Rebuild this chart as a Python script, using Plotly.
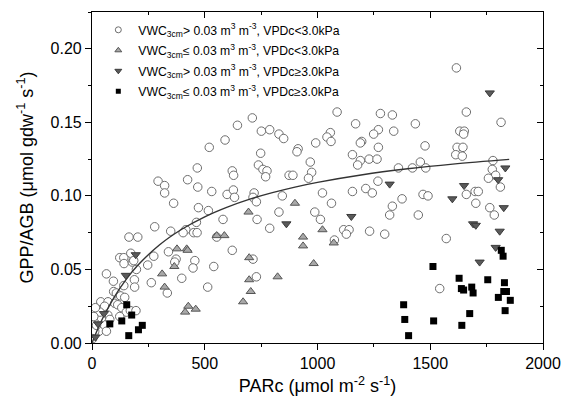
import plotly.graph_objects as go

# open circles: VWC > 0.03, VPDc < 3.0 kPa
circ_x = [293, 322, 322, 424, 467, 469, 531, 622, 628, 599, 627, 632, 738, 719, 714, 729, 732,
          362, 472, 516, 278, 349, 416, 404, 463, 451, 466, 581, 553, 622, 714, 339, 373, 367,
          456, 448, 398, 513, 540, 203, 274, 247, 263, 334, 164, 123, 141, 142, 172, 179, 185,
          64, 95, 141, 96, 108, 197, 188, 189, 127, 145, 39, 71, 56, 101, 114, 132, 152, 170,
          195, 46, 70, 79, 27, 17, 31, 64, 5, 9, 123, 729,
          12, 20, 42, 35, 3, 8, 15, 520, 590, 645,
          711, 1087, 1279, 1332, 751, 788, 829, 850, 1169, 1434, 1338, 1270, 1249, 1057, 1042,
          1060, 992, 914, 909, 1196, 1190, 1270, 1477, 748, 758, 776, 770, 968, 974, 960,
          874, 891, 1155, 1190, 1229, 1264, 1178, 1359, 1421, 1456, 1480, 1268, 1214, 1243,
          1155, 1022, 1062, 844, 829, 988, 1013, 1116, 1140, 1128, 1231, 1298, 1375, 1332,
          1320, 1447, 1468, 1490, 788, 1075, 1571,
          1616, 1660, 1814, 1631, 1651, 1648, 1619, 1645, 1613, 1642, 1778, 1775, 1790, 1758,
          1811, 1660, 1699, 1713, 1702, 1764, 1784, 1542]
circ_y = [0.110, 0.107, 0.102, 0.111, 0.119, 0.106, 0.103, 0.117, 0.114, 0.101, 0.104, 0.099, 0.121, 0.102, 0.099, 0.096, 0.084,
          0.095, 0.092, 0.090, 0.079, 0.076, 0.077, 0.075, 0.082, 0.075, 0.075, 0.084, 0.072, 0.063, 0.057, 0.062, 0.057, 0.055,
          0.056, 0.051, 0.044, 0.038, 0.052, 0.072, 0.059, 0.053, 0.041, 0.034, 0.072, 0.058, 0.058, 0.054, 0.061, 0.055, 0.056,
          0.047, 0.042, 0.039, 0.035, 0.034, 0.050, 0.043, 0.038, 0.032, 0.031, 0.028, 0.028, 0.025, 0.027, 0.026, 0.024, 0.021, 0.022,
          0.022, 0.019, 0.019, 0.016, 0.016, 0.014, 0.008, 0.008, 0.009, 0.006, 0.018, 0.045,
          0.008, 0.012, 0.017, 0.021, 0.003, 0.018, 0.024, 0.133, 0.138, 0.148,
          0.153, 0.157, 0.156, 0.155, 0.144, 0.145, 0.142, 0.139, 0.149, 0.149, 0.144, 0.145, 0.142, 0.143, 0.140,
          0.137, 0.136, 0.132, 0.130, 0.137, 0.136, 0.133, 0.134, 0.129, 0.118, 0.117, 0.113, 0.123, 0.116, 0.112,
          0.114, 0.114, 0.128, 0.124, 0.125, 0.125, 0.121, 0.119, 0.119, 0.123, 0.119, 0.110, 0.105, 0.102,
          0.103, 0.102, 0.095, 0.100, 0.089, 0.089, 0.084, 0.077, 0.077, 0.074, 0.076, 0.074, 0.098, 0.093,
          0.087, 0.087, 0.101, 0.100, 0.078, 0.070, 0.071,
          0.187, 0.157, 0.150, 0.144, 0.144, 0.142, 0.133, 0.133, 0.128, 0.127, 0.124, 0.118, 0.114, 0.112,
          0.106, 0.101, 0.103, 0.103, 0.095, 0.092, 0.087, 0.037]

# grey triangles up: VWC <= 0.03, VPDc < 3.0 kPa
tri_up_x = [311, 322, 365, 377, 420, 424, 427, 460, 413, 553, 587, 694, 697, 697, 704, 670,
            900, 1022, 936, 936, 1072, 983, 823]
tri_up_y = [0.047, 0.038, 0.052, 0.064, 0.064, 0.063, 0.025, 0.023, 0.021, 0.073, 0.073, 0.089, 0.058, 0.043, 0.035, 0.028,
            0.095, 0.077, 0.072, 0.066, 0.068, 0.054, 0.045]

# dark triangles down: VWC > 0.03, VPDc >= 3.0 kPa
tri_dn_x = [15, 27, 53, 150, 194, 862, 1150, 1320, 1764, 1833, 1801, 1650, 1598, 1826, 1690, 1702,
            1808, 1790, 1719]
tri_dn_y = [0.004, 0.013, 0.020, 0.046, 0.060, 0.081, 0.086, 0.108, 0.170, 0.119, 0.111, 0.107, 0.098, 0.092, 0.081, 0.080,
            0.076, 0.065, 0.055]

# black squares: VWC <= 0.03, VPDc >= 3.0 kPa
sq_x = [79, 132, 154, 176, 163, 206, 223, 1382, 1387, 1404, 1512, 1515, 1628, 1638, 1648, 1684, 1690,
        1675, 1640, 1755, 1815, 1823, 1829, 1838, 1826, 1802, 1855, 1832]
sq_y = [0.013, 0.015, 0.026, 0.019, 0.005, 0.009, 0.012, 0.026, 0.016, 0.005, 0.052, 0.015, 0.044, 0.037, 0.036, 0.038, 0.034,
        0.020, 0.012, 0.043, 0.063, 0.059, 0.041, 0.035, 0.035, 0.031, 0.029, 0.022]

# fitted light-response curve
fit_x = [0, 25, 50, 100, 150, 200, 300, 400, 500, 600, 700, 800, 900, 1000, 1200, 1400, 1600, 1850]
fit_y = [0.0, 0.0094, 0.0177, 0.0316, 0.0429, 0.0523, 0.0668, 0.0775, 0.0858, 0.0924, 0.0978, 0.1022,
         0.1060, 0.1092, 0.1144, 0.1184, 0.1216, 0.1248]

legend_names = [
    "VWC<sub>3cm</sub>&gt; 0.03 m<sup>3</sup> m<sup>-3</sup>, VPDc&lt;3.0kPa",
    "VWC<sub>3cm</sub>≤ 0.03 m<sup>3</sup> m<sup>-3</sup>, VPDc&lt;3.0kPa",
    "VWC<sub>3cm</sub>&gt; 0.03 m<sup>3</sup> m<sup>-3</sup>, VPDc≥3.0kPa",
    "VWC<sub>3cm</sub>≤ 0.03 m<sup>3</sup> m<sup>-3</sup>, VPDc≥3.0kPa",
]

FONT = "Arial, Liberation Sans, sans-serif"

styles = [
    dict(symbol="circle", color="white", line=dict(color="#6e6e6e", width=1)),
    dict(symbol="triangle-up", color="#a8a8a8", line=dict(color="#555555", width=1)),
    dict(symbol="triangle-down", color="#5a5a5a", line=dict(color="#3a3a3a", width=1)),
    dict(symbol="square", color="black", line=dict(color="black", width=0)),
]
sizes = [8.5, 8, 8, 7]
leg_sizes = [6, 6, 6, 5]
series = [(circ_x, circ_y), (tri_up_x, tri_up_y), (tri_dn_x, tri_dn_y), (sq_x, sq_y)]

fig = go.Figure()

for i, (xs, ys) in enumerate(series):
    fig.add_trace(go.Scatter(x=xs, y=ys, mode="markers", showlegend=False,
                             marker=dict(size=sizes[i], **styles[i])))
    if i == 0:
        fig.add_trace(go.Scatter(x=fit_x, y=fit_y, mode="lines", showlegend=False,
                                 line=dict(color="#333333", width=1.4, shape="spline")))

# legend-only entries with small symbols, one group each so the gap applies
for i in range(4):
    fig.add_trace(go.Scatter(x=[None], y=[None], mode="markers", name=legend_names[i],
                             legendgroup="g%d" % i,
                             marker=dict(size=leg_sizes[i], **styles[i])))

# dummy trace to hold the top/right mirror axes
fig.add_trace(go.Scatter(x=[None], y=[None], xaxis="x2", yaxis="y2", showlegend=False))

axis_common = dict(showgrid=False, zeroline=False, showline=True, linecolor="black", linewidth=1.2,
                   tickcolor="black", tickwidth=1.2, ticklen=6, automargin=False)

# page body keeps an 8px margin (top/left), so the figure is 8px smaller
fig.update_layout(
    width=561, height=399,
    margin=dict(l=84, r=26, t=4, b=64),
    paper_bgcolor="white", plot_bgcolor="white",
    font=dict(family=FONT, color="black"),
    xaxis=dict(range=[0, 2000], dtick=500, ticks="outside",
               tickfont=dict(size=16),
               minor=dict(dtick=250, ticks="outside", ticklen=3, tickcolor="black", tickwidth=1.2),
               title=dict(text="PARc (μmol m<sup>-2</sup> s<sup>-1</sup>)", font=dict(size=18), standoff=8),
               **axis_common),
    yaxis=dict(range=[0, 0.225], dtick=0.05, tickformat=".2f", ticks="outside",
               tickfont=dict(size=16),
               minor=dict(dtick=0.025, ticks="outside", ticklen=3, tickcolor="black", tickwidth=1.2),
               title=dict(text="GPP/AGB (μmol gdw<sup>-1</sup> s<sup>-1</sup>)", font=dict(size=18), standoff=12),
               **axis_common),
    xaxis2=dict(range=[0, 2000], dtick=500, ticks="inside", overlaying="x", side="top", anchor="y2",
                showticklabels=False,
                minor=dict(dtick=250, ticks="inside", ticklen=3, tickcolor="black", tickwidth=1.2),
                **axis_common),
    yaxis2=dict(range=[0, 0.225], dtick=0.05, ticks="inside", overlaying="y", side="right", anchor="x2",
                showticklabels=False,
                minor=dict(dtick=0.025, ticks="inside", ticklen=3, tickcolor="black", tickwidth=1.2),
                **axis_common),
    legend=dict(x=0.014, y=0.99, xanchor="left", yanchor="top", bgcolor="rgba(0,0,0,0)",
                font=dict(size=12.2, family=FONT), tracegroupgap=1.5, itemsizing="trace"),
)

fig.write_html("out.html")
